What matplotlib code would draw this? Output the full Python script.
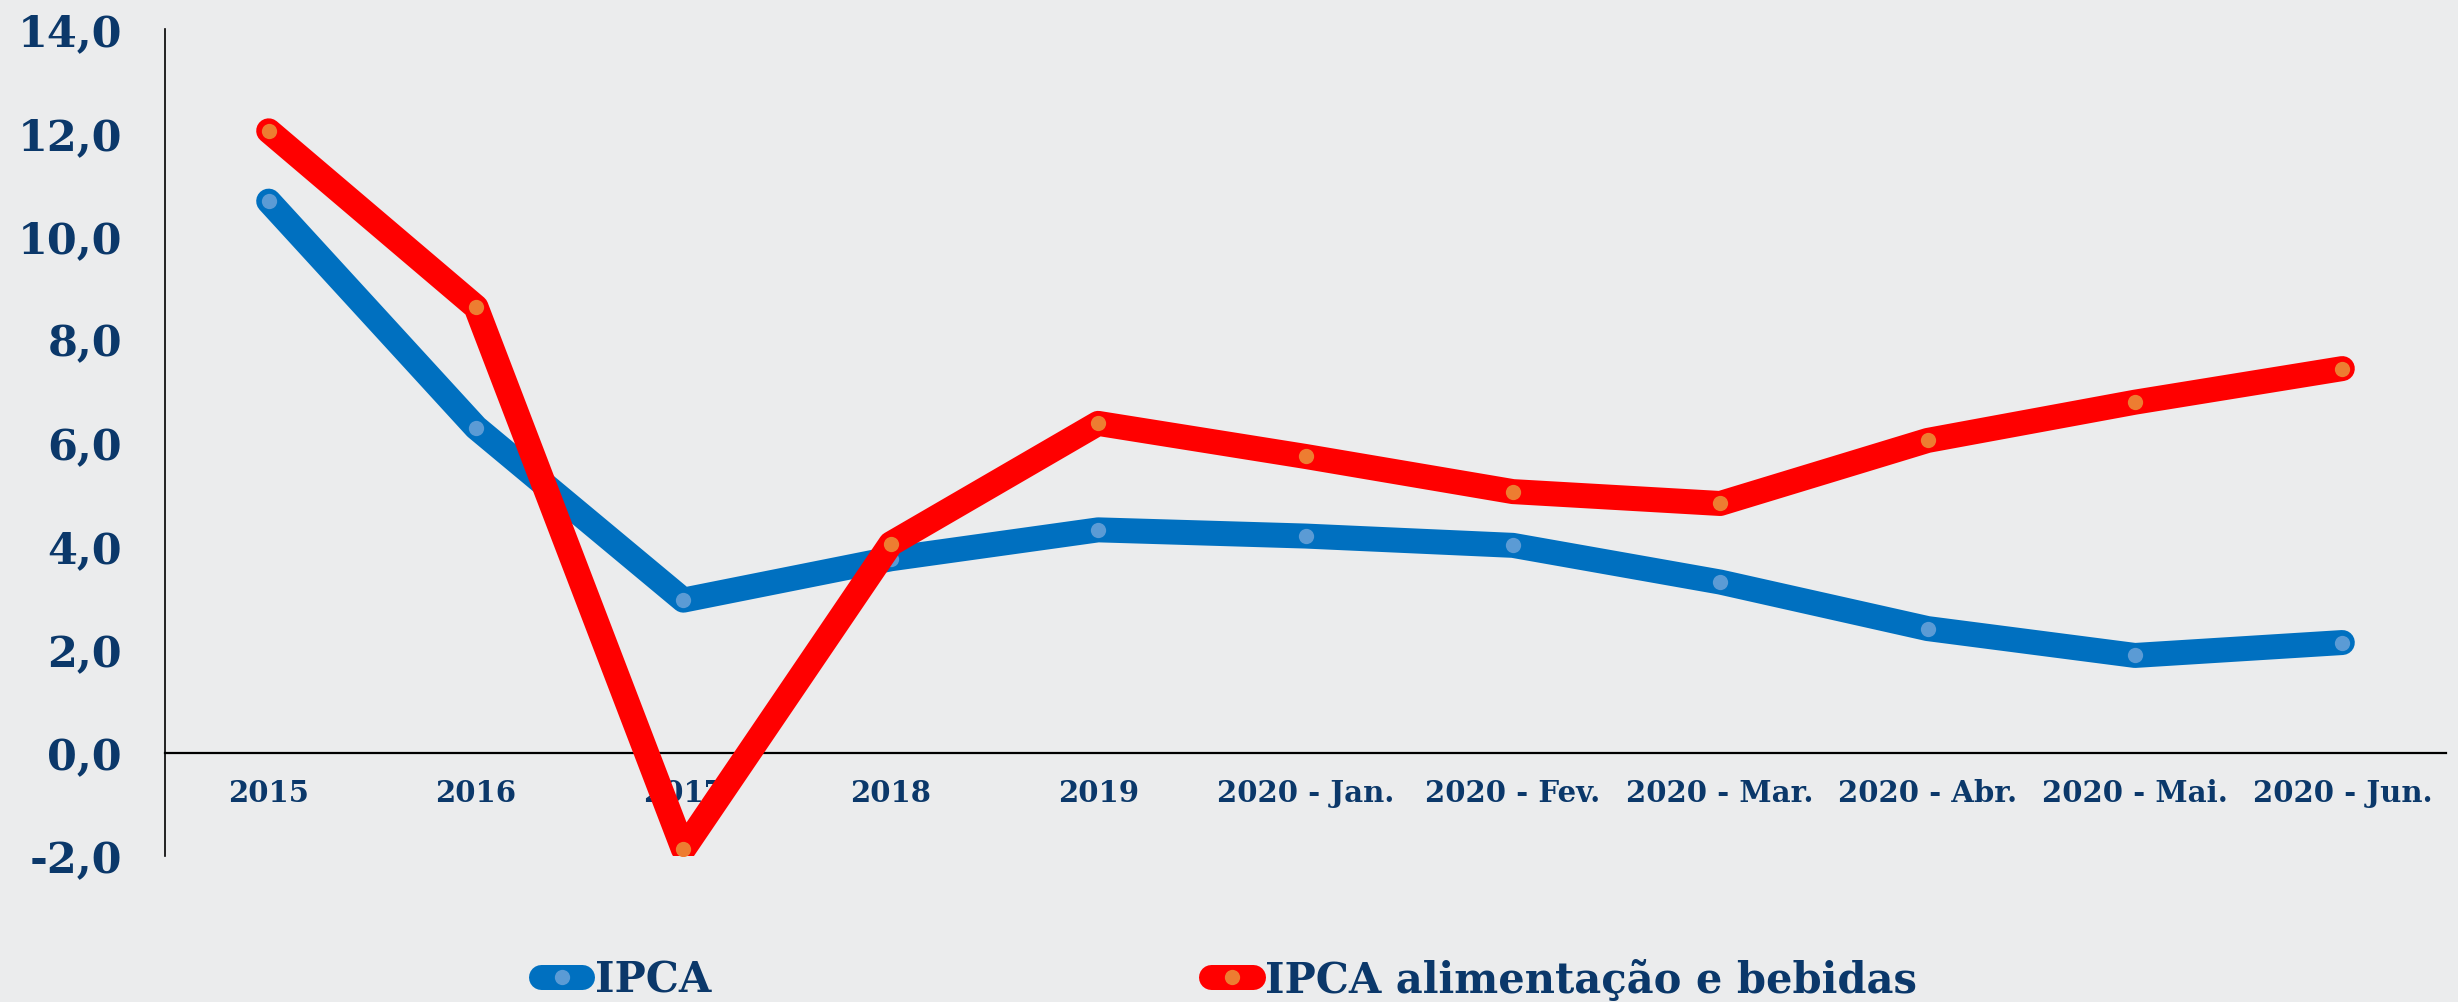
import matplotlib
matplotlib.use("Agg")
import matplotlib.pyplot as plt
from matplotlib.lines import Line2D

# Dados (variação acumulada em 12 meses, %)
categorias = ["2015", "2016", "2017", "2018", "2019",
              "2020 - Jan.", "2020 - Fev.", "2020 - Mar.",
              "2020 - Abr.", "2020 - Mai.", "2020 - Jun."]
ipca = [10.67, 6.29, 2.95, 3.75, 4.31, 4.19, 4.01, 3.30, 2.40, 1.88, 2.13]
ipca_alim = [12.03, 8.62, -1.87, 4.04, 6.37, 5.73, 5.05, 4.82, 6.04, 6.78, 7.43]
yticks = [-2, 0, 2, 4, 6, 8, 10, 12, 14]

NAVY = "#0b386a"
BG = "#ebeced"
FONT = dict(family="DejaVu Serif", weight="bold")

fig = plt.figure(figsize=(24.58, 10.03), dpi=100, facecolor=BG)
ax = fig.add_axes([165 / 2458, 1 - 857 / 1003, (2446 - 165) / 2458, (857 - 30) / 1003])
ax.set_facecolor("none")

# eixos primeiro (set_position reinicia os ticks)
ax.spines["top"].set_visible(False)
ax.spines["right"].set_visible(False)
ax.spines["bottom"].set_position(("data", 0))
ax.spines["bottom"].set_linewidth(1.6)
ax.spines["left"].set_linewidth(1.2)
ax.spines["bottom"].set_zorder(2)

x = list(range(len(categorias)))
ax.plot(x, ipca, color="#0070c0", lw=18, solid_capstyle="round", solid_joinstyle="round",
        marker="o", ms=11, mfc="#5b9bd5", mec="none", zorder=3)
ax.plot(x, ipca_alim, color="#ff0000", lw=18, solid_capstyle="round", solid_joinstyle="round",
        marker="o", ms=11, mfc="#ed7d31", mec="none", zorder=4)

ax.set_xlim(-0.5, len(categorias) - 0.5)
ax.set_ylim(-2, 14)
ax.set_yticks(yticks)
ax.set_yticklabels([f"{v:.1f}".replace(".", ",") for v in yticks],
                   fontsize=31, color=NAVY, **FONT)
ax.set_xticks(x)
ax.set_xticklabels(categorias, fontsize=21, color=NAVY, **FONT)

ax.tick_params(axis="y", length=0, pad=31)
ax.tick_params(axis="x", length=0, pad=18)

handles = [
    Line2D([], [], color="#0070c0", lw=18, solid_capstyle="round", marker="o", ms=11,
           mfc="#5b9bd5", mec="none"),
    Line2D([], [], color="#ff0000", lw=18, solid_capstyle="round", marker="o", ms=11,
           mfc="#ed7d31", mec="none"),
]
fig.legend(handles, ["IPCA", "IPCA alimentação e bebidas"], loc="center",
           bbox_to_anchor=(0.5, 1 - 981 / 1003), ncol=2, frameon=False,
           prop=dict(family="DejaVu Serif", weight="bold", size=30),
           labelcolor=NAVY, handlelength=1.0, handletextpad=0.3,
           columnspacing=12.0, borderpad=0)

fig.savefig("out.png", dpi=100, facecolor=BG)
